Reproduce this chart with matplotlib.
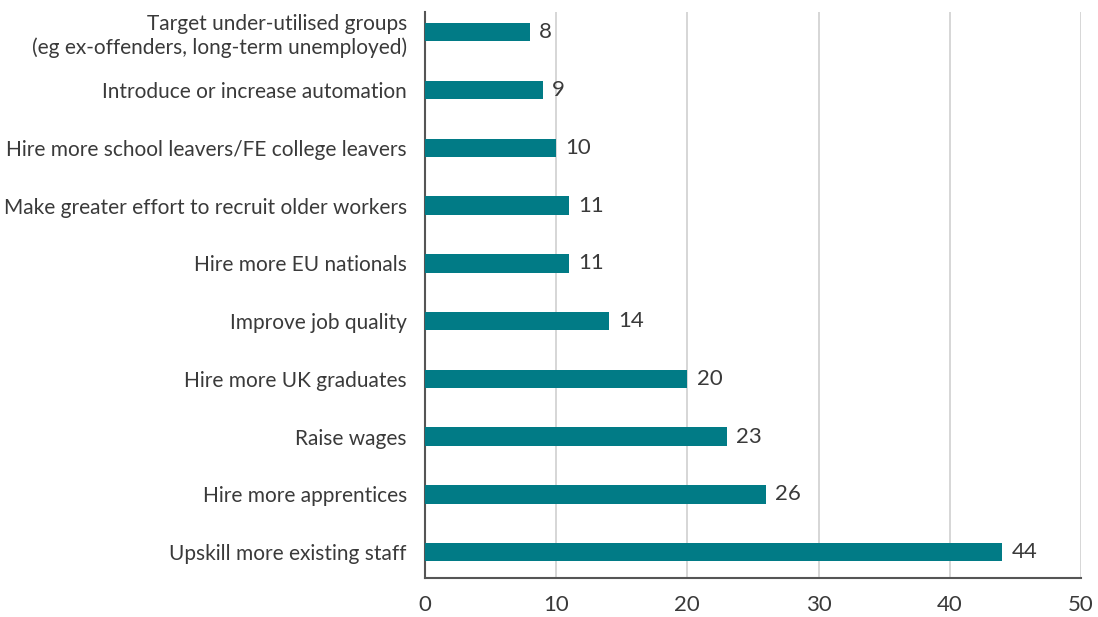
import matplotlib
matplotlib.use("Agg")
import matplotlib.pyplot as plt

categories = [
    "Upskill more existing staff",
    "Hire more apprentices",
    "Raise wages",
    "Hire more UK graduates",
    "Improve job quality",
    "Hire more EU nationals",
    "Make greater effort to recruit older workers",
    "Hire more school leavers/FE college leavers",
    "Introduce or increase automation",
    "Target under-utilised groups\n(eg ex-offenders, long-term unemployed)",
]
values = [44, 26, 23, 20, 14, 11, 11, 10, 9, 8]
x_ticks = [0, 10, 20, 30, 40, 50]

bar_color = "#017b86"
text_color = "#3a3a3a"

plt.rcParams["font.family"] = ["Lato", "DejaVu Sans"]

fig = plt.figure(figsize=(10.98, 6.17), dpi=100)
ax = fig.add_axes([0.387, 0.063, 0.5975, 0.9175])

ypos = list(range(len(categories)))
ax.barh(ypos, values, height=0.32, color=bar_color, zorder=3)

for y, v in zip(ypos, values):
    ax.text(v + 0.7, y, f"{v}", va="center", ha="left",
            fontsize=16, color=text_color)

ax.set_xlim(0, 50)
ax.set_ylim(-0.45, 9.35)
ax.set_xticks(x_ticks)
ax.set_xticklabels([str(t) for t in x_ticks], fontsize=16, color=text_color)
ax.set_yticks(ypos)
ax.set_yticklabels(categories, fontsize=15, color=text_color, linespacing=1.2)

ax.grid(axis="x", color="#d0d0d0", linewidth=1.2, zorder=0)
ax.tick_params(axis="both", length=0)
ax.tick_params(axis="y", pad=13)
ax.tick_params(axis="x", pad=12)

for side in ["top", "right"]:
    ax.spines[side].set_visible(False)
ax.spines["left"].set_color("#555555")
ax.spines["left"].set_linewidth(1.5)
ax.spines["bottom"].set_color("#555555")
ax.spines["bottom"].set_linewidth(1.5)

fig.savefig("out.png", dpi=100, facecolor="white")
